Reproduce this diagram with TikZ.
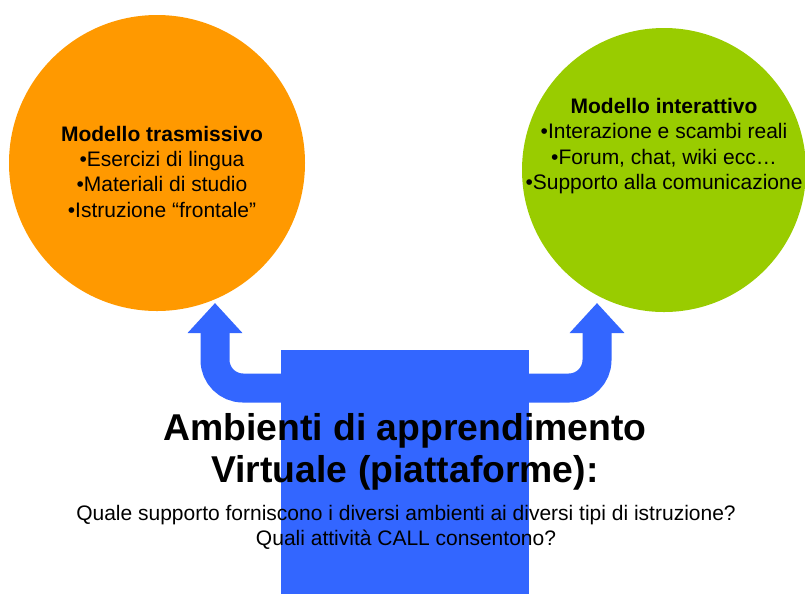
\documentclass[tikz,border=0pt]{standalone}
\usepackage{fontspec}
\setmainfont{Liberation Sans}
\usetikzlibrary{arrows.meta}
\definecolor{trasmorange}{HTML}{FF9900}
\definecolor{intergreen}{HTML}{99CC00}
\definecolor{platblue}{HTML}{3366FF}

\begin{document}
\begin{tikzpicture}[x=0.75pt,y=-0.75pt,
  blob/.style={circle, inner sep=0pt, draw=none},
  smalltext/.style={align=center, font=\fontsize{15.75}{19}\selectfont},
  bigtext/.style={align=center, font=\fontsize{28}{31.5}\selectfont\bfseries},
  ]
\useasboundingbox (0,0) rectangle (805,594);

% the two models
\node[blob, fill=trasmorange, minimum size=222pt] (trasm) at (157,163) {};
\node[blob, fill=intergreen, minimum size=213pt] (inter) at (664,170) {};

% double arrow up to the circles
\coordinate (ltip) at (215,303);
\coordinate (rtip) at (597,303);
\coordinate (band) at (406,388);
\draw[platblue, line width=21.75pt, rounded corners=21pt,
    {Triangle[width=39.75pt,length=22.5pt]}-{Triangle[width=39.75pt,length=22.5pt]}]
    (ltip) |- (band) -| (rtip);

% platform box
\node[fill=platblue, minimum width=186pt, minimum height=183pt, inner sep=0pt]
    (platf) at (405,472) {};

% texts
\node[smalltext] (trasmtext) at (162,171.5)
    {\textbf{Modello trasmissivo}\\•Esercizi di lingua\\•Materiali di studio\\•Istruzione “frontale”};
\node[smalltext] (intertext) at (664,146)
    {\textbf{Modello interattivo}\\•Interazione e scambi reali\\•Forum, chat, wiki ecc…\\•Supporto alla comunicazione};
\node[bigtext] (title) at (405,451.5)
    {Ambienti di apprendimento\\Virtuale (piattaforme):};
\node[smalltext] (questions) at (406,527.5)
    {Quale supporto forniscono i diversi ambienti ai diversi tipi di istruzione?\\Quali attività CALL consentono?};

\end{tikzpicture}
\end{document}
